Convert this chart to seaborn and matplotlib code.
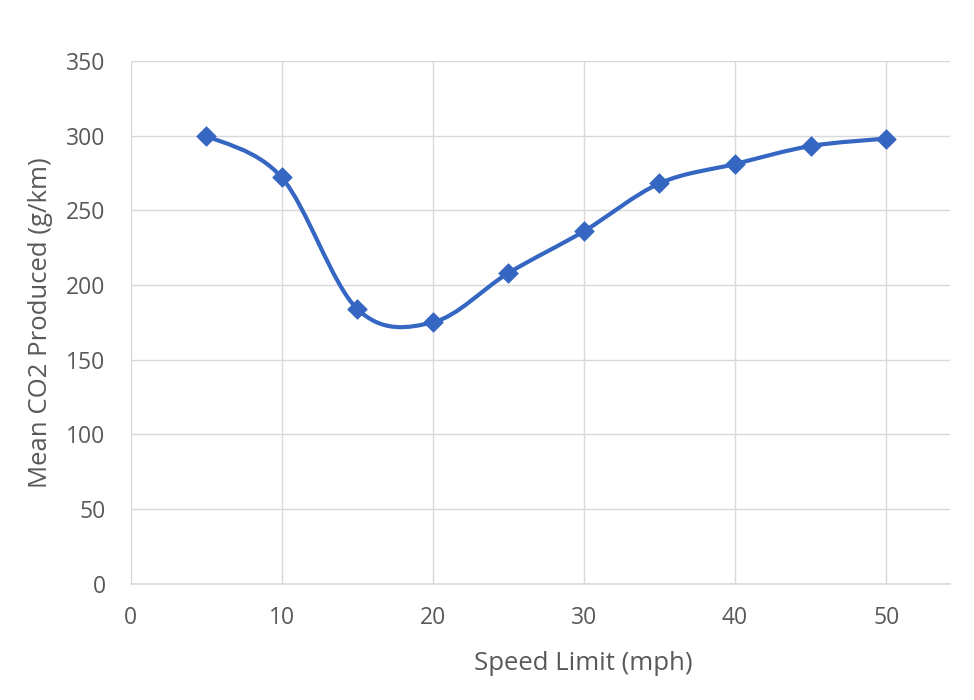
import numpy as np
import seaborn as sns
import matplotlib.pyplot as plt
from matplotlib.path import Path
from matplotlib.patches import PathPatch

# data
speed_limit = [5, 10, 15, 20, 25, 30, 35, 40, 45, 50]
mean_co2 = [300, 272, 184, 175, 208, 236, 268, 281, 293, 298]

x_ticks = [0, 10, 20, 30, 40, 50]
y_ticks = [0, 50, 100, 150, 200, 250, 300, 350]

line_color = "#3566C2"
text_color = "#595959"
grid_color = "#D9D9D9"

sns.set_theme(style="white")
plt.rcParams["font.family"] = ["Open Sans", "DejaVu Sans"]

fig = plt.figure(figsize=(9.74, 7.0), dpi=100)
ax = fig.add_axes([0.134, 0.166, 0.841, 0.747])


def smooth_path(xs, ys):
    # Excel-style smoothed line: cubic bezier segments with catmull-rom tangents
    pts = np.column_stack([xs, ys]).astype(float)
    n = len(pts)
    verts = [pts[0]]
    codes = [Path.MOVETO]
    for i in range(n - 1):
        p_prev = pts[i - 1] if i > 0 else pts[i]
        p_next = pts[i + 2] if i + 2 < n else pts[i + 1]
        c1 = pts[i] + (pts[i + 1] - p_prev) / 6.0
        c2 = pts[i + 1] - (p_next - pts[i]) / 6.0
        verts += [c1, c2, pts[i + 1]]
        codes += [Path.CURVE4] * 3
    return Path(verts, codes)


ax.add_patch(PathPatch(smooth_path(speed_limit, mean_co2), facecolor="none",
                       edgecolor=line_color, lw=3.0, zorder=3, capstyle="round"))
sns.scatterplot(x=speed_limit, y=mean_co2, marker="D", s=100, color=line_color,
                edgecolor=line_color, linewidth=0.5, zorder=4, ax=ax)

ax.set_xlim(0, 54.2)
ax.set_ylim(0, 350)
ax.set_xticks(x_ticks)
ax.set_yticks(y_ticks)
ax.grid(True, color=grid_color, linewidth=1.0)
ax.set_axisbelow(True)

for side in ["top", "right", "left"]:
    ax.spines[side].set_visible(False)
ax.spines["bottom"].set_color(grid_color)
ax.spines["bottom"].set_linewidth(1.2)

ax.tick_params(axis="both", length=0, labelsize=16.5, labelcolor=text_color)
ax.tick_params(axis="y", pad=18)
ax.tick_params(axis="x", pad=16)
ax.set_xlabel("Speed Limit (mph)", fontsize=18.5, color=text_color, va="center")
ax.set_ylabel("Mean CO2 Produced (g/km)", fontsize=18.5, color=text_color, va="center")
ax.xaxis.set_label_coords(0.553, -0.152)
ax.yaxis.set_label_coords(-0.1105, 0.5)

fig.savefig("out.png", dpi=100, facecolor="white")
